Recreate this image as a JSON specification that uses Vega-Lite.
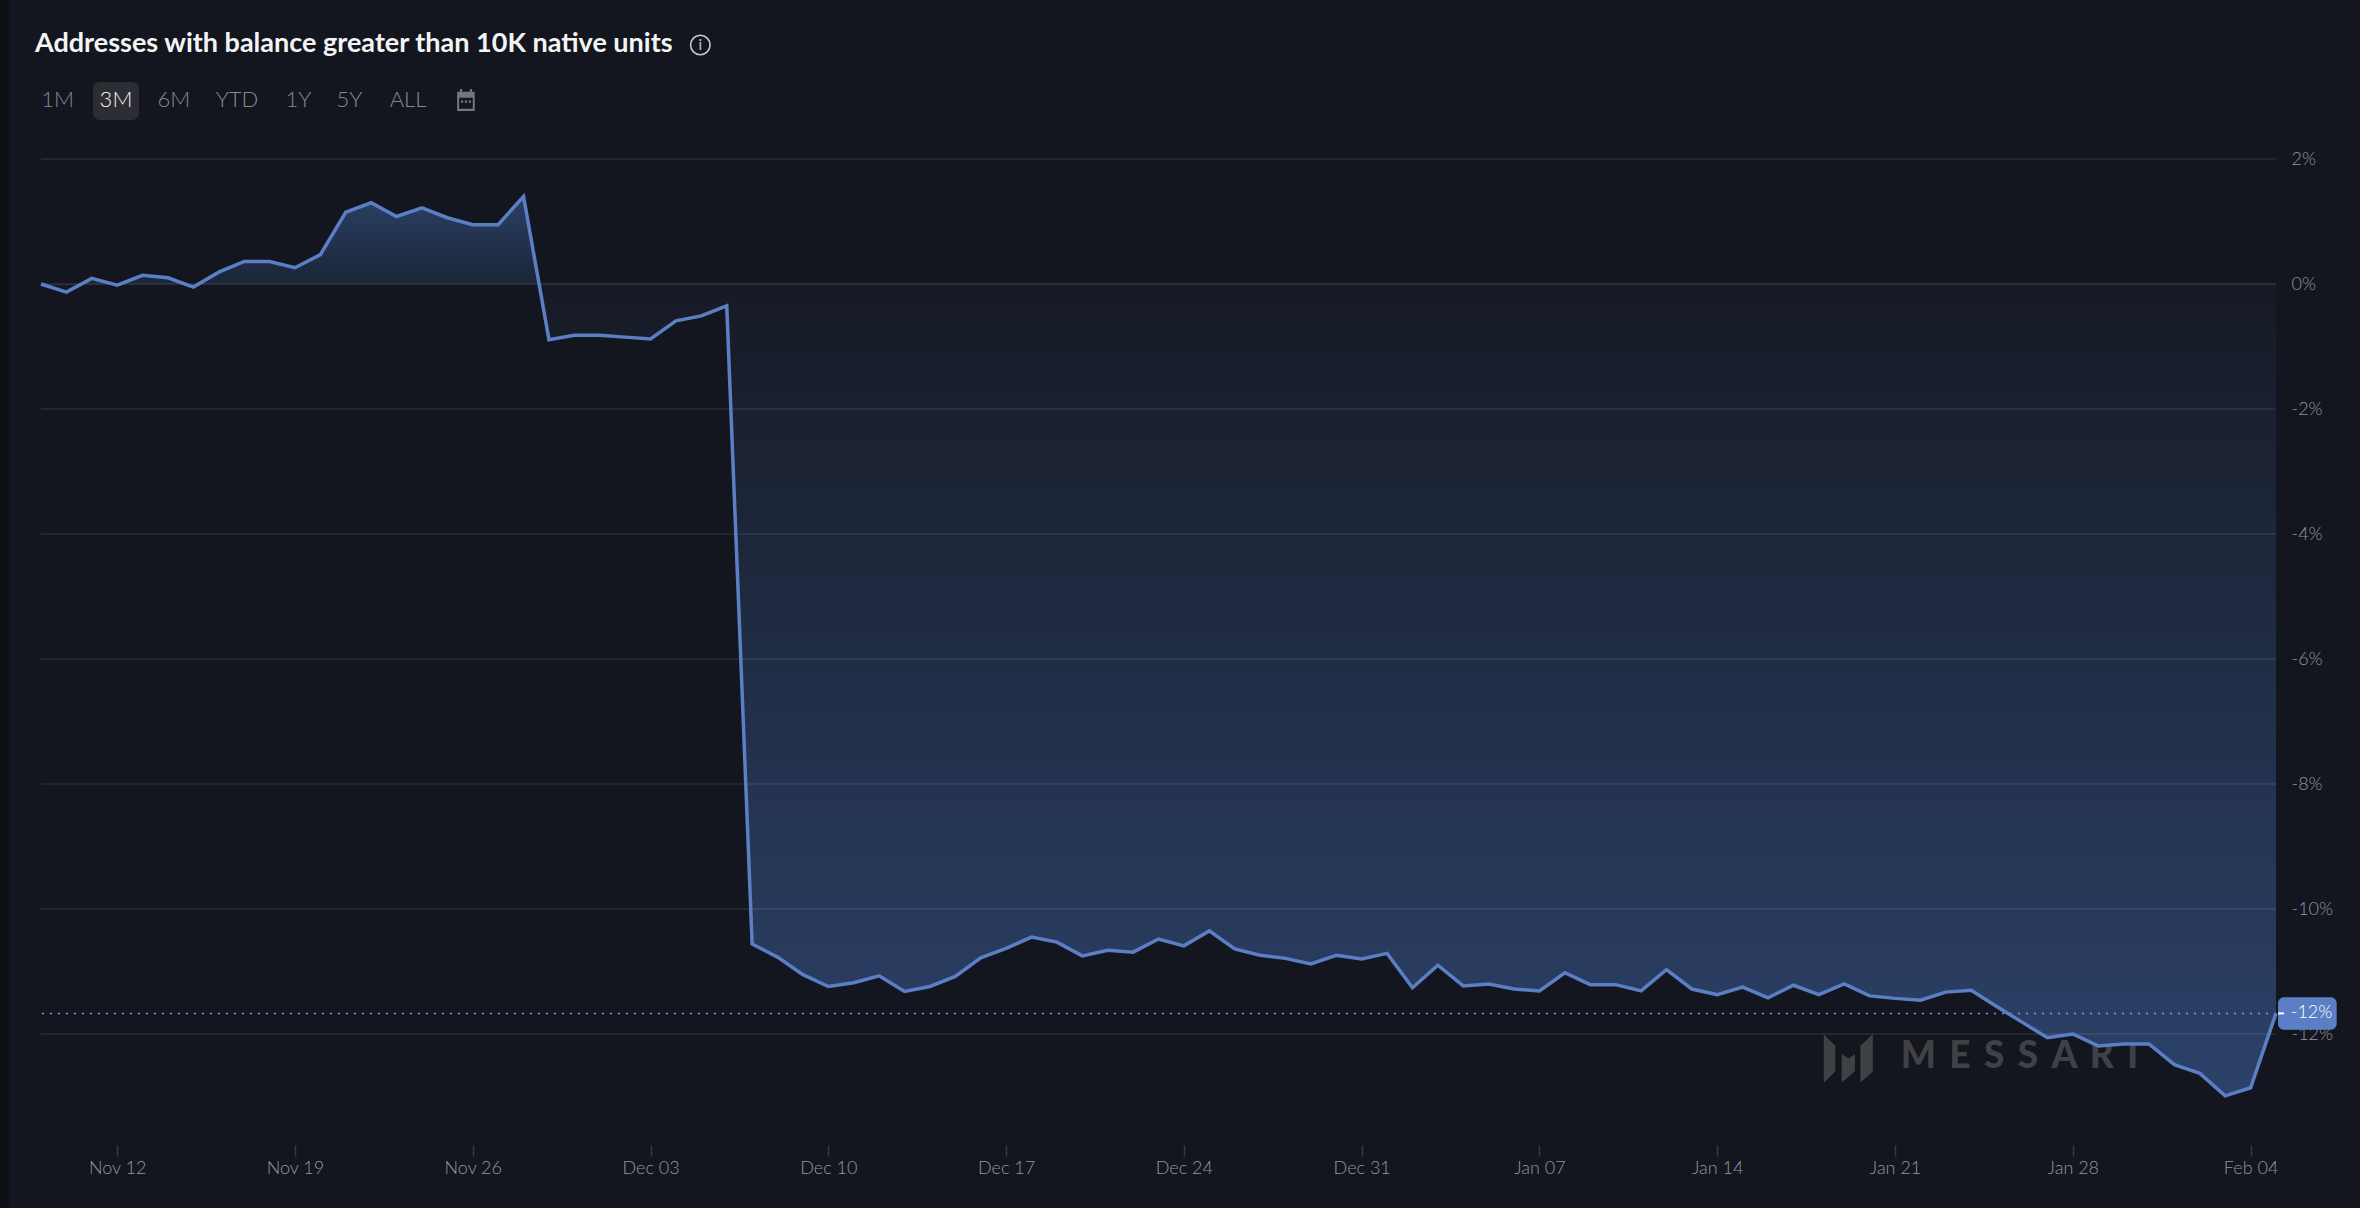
{
  "$schema": "https://vega.github.io/schema/vega-lite/v6.json",
  "autosize": "none",
  "width": 2235,
  "height": 986,
  "padding": {"left": 41, "top": 159, "right": 84, "bottom": 63},
  "background": "#13161e",
  "title": {
    "text": "Addresses with balance greater than 10K native units",
    "anchor": "start",
    "frame": "group",
    "dx": -6,
    "offset": -58,
    "font": "Lato",
    "fontSize": 27,
    "fontWeight": 700,
    "color": "#f4f4f5"
  },
  "config": {
    "view": {"stroke": null},
    "text": {"font": "Lato"},
    "axis": {"labelFont": "Lato", "title": null}
  },
  "datasets": {
    "series": [
      {"date": "2023-11-09", "value": 0.0},
      {"date": "2023-11-10", "value": -0.13},
      {"date": "2023-11-11", "value": 0.09},
      {"date": "2023-11-12", "value": -0.02},
      {"date": "2023-11-13", "value": 0.14},
      {"date": "2023-11-14", "value": 0.1},
      {"date": "2023-11-15", "value": -0.05},
      {"date": "2023-11-16", "value": 0.19},
      {"date": "2023-11-17", "value": 0.36},
      {"date": "2023-11-18", "value": 0.36},
      {"date": "2023-11-19", "value": 0.26},
      {"date": "2023-11-20", "value": 0.47},
      {"date": "2023-11-21", "value": 1.15},
      {"date": "2023-11-22", "value": 1.3},
      {"date": "2023-11-23", "value": 1.08},
      {"date": "2023-11-24", "value": 1.22},
      {"date": "2023-11-25", "value": 1.06},
      {"date": "2023-11-26", "value": 0.95},
      {"date": "2023-11-27", "value": 0.95},
      {"date": "2023-11-28", "value": 1.4},
      {"date": "2023-11-29", "value": -0.89},
      {"date": "2023-11-30", "value": -0.82},
      {"date": "2023-12-01", "value": -0.82},
      {"date": "2023-12-02", "value": -0.85},
      {"date": "2023-12-03", "value": -0.88},
      {"date": "2023-12-04", "value": -0.59},
      {"date": "2023-12-05", "value": -0.51},
      {"date": "2023-12-06", "value": -0.35},
      {"date": "2023-12-07", "value": -10.56},
      {"date": "2023-12-08", "value": -10.77},
      {"date": "2023-12-09", "value": -11.05},
      {"date": "2023-12-10", "value": -11.24},
      {"date": "2023-12-11", "value": -11.18},
      {"date": "2023-12-12", "value": -11.07},
      {"date": "2023-12-13", "value": -11.32},
      {"date": "2023-12-14", "value": -11.24},
      {"date": "2023-12-15", "value": -11.08},
      {"date": "2023-12-16", "value": -10.78},
      {"date": "2023-12-17", "value": -10.63},
      {"date": "2023-12-18", "value": -10.45},
      {"date": "2023-12-19", "value": -10.53},
      {"date": "2023-12-20", "value": -10.75},
      {"date": "2023-12-21", "value": -10.66},
      {"date": "2023-12-22", "value": -10.69},
      {"date": "2023-12-23", "value": -10.48},
      {"date": "2023-12-24", "value": -10.59},
      {"date": "2023-12-25", "value": -10.35},
      {"date": "2023-12-26", "value": -10.64},
      {"date": "2023-12-27", "value": -10.74},
      {"date": "2023-12-28", "value": -10.79},
      {"date": "2023-12-29", "value": -10.88},
      {"date": "2023-12-30", "value": -10.74},
      {"date": "2023-12-31", "value": -10.8},
      {"date": "2024-01-01", "value": -10.71},
      {"date": "2024-01-02", "value": -11.26},
      {"date": "2024-01-03", "value": -10.9},
      {"date": "2024-01-04", "value": -11.23},
      {"date": "2024-01-05", "value": -11.2},
      {"date": "2024-01-06", "value": -11.28},
      {"date": "2024-01-07", "value": -11.31},
      {"date": "2024-01-08", "value": -11.02},
      {"date": "2024-01-09", "value": -11.21},
      {"date": "2024-01-10", "value": -11.21},
      {"date": "2024-01-11", "value": -11.31},
      {"date": "2024-01-12", "value": -10.97},
      {"date": "2024-01-13", "value": -11.28},
      {"date": "2024-01-14", "value": -11.37},
      {"date": "2024-01-15", "value": -11.25},
      {"date": "2024-01-16", "value": -11.42},
      {"date": "2024-01-17", "value": -11.22},
      {"date": "2024-01-18", "value": -11.37},
      {"date": "2024-01-19", "value": -11.2},
      {"date": "2024-01-20", "value": -11.39},
      {"date": "2024-01-21", "value": -11.43},
      {"date": "2024-01-22", "value": -11.46},
      {"date": "2024-01-23", "value": -11.33},
      {"date": "2024-01-24", "value": -11.3},
      {"date": "2024-01-25", "value": -11.56},
      {"date": "2024-01-26", "value": -11.81},
      {"date": "2024-01-27", "value": -12.06},
      {"date": "2024-01-28", "value": -12.0},
      {"date": "2024-01-29", "value": -12.19},
      {"date": "2024-01-30", "value": -12.16},
      {"date": "2024-01-31", "value": -12.16},
      {"date": "2024-02-01", "value": -12.49},
      {"date": "2024-02-02", "value": -12.63},
      {"date": "2024-02-03", "value": -12.99},
      {"date": "2024-02-04", "value": -12.86},
      {"date": "2024-02-05", "value": -11.67}
    ],
    "gridlines": [
      {"value": 2, "kind": "grid"},
      {"value": 0, "kind": "zero"},
      {"value": -2, "kind": "grid"},
      {"value": -4, "kind": "grid"},
      {"value": -6, "kind": "grid"},
      {"value": -8, "kind": "grid"},
      {"value": -10, "kind": "grid"},
      {"value": -12, "kind": "grid"}
    ],
    "ranges": [
      {"label": "1M", "date": "2023-11-09T15:41:00Z", "value": 2.944, "active": false},
      {"label": "3M", "date": "2023-11-11T22:52:00Z", "value": 2.944, "active": true},
      {"label": "6M", "date": "2023-11-14T05:40:00Z", "value": 2.944, "active": false},
      {"label": "YTD", "date": "2023-11-16T17:13:00Z", "value": 2.944, "active": false},
      {"label": "1Y", "date": "2023-11-19T03:19:00Z", "value": 2.944, "active": false},
      {"label": "5Y", "date": "2023-11-21T03:30:00Z", "value": 2.944, "active": false},
      {"label": "ALL", "date": "2023-11-23T10:47:00Z", "value": 2.944, "active": false}
    ]
  },
  "layer": [
    {
      "data": {"values": [{"date": "2023-11-07T09:15:00Z", "date2": "2023-11-07T17:23:00Z", "value": 4.55, "value2": -14.78}]},
      "mark": {"type": "rect", "fill": "#0e1014"},
      "encoding": {
        "x": {
          "field": "date",
          "type": "temporal",
          "scale": {"type": "utc", "domain": [1699488000000, 1707091200000]},
          "axis": {
            "orient": "bottom",
            "values": [1699747200000, 1700352000000, 1700956800000, 1701561600000, 1702166400000, 1702771200000, 1703376000000, 1703980800000, 1704585600000, 1705190400000, 1705795200000, 1706400000000, 1707004800000],
            "format": "%b %d",
            "formatType": "utc",
            "grid": false,
            "domain": false,
            "tickColor": "#343840",
            "tickSize": 11,
            "tickWidth": 1.5,
            "labelFontSize": 18,
            "labelFontWeight": 300,
            "labelColor": "#93979e",
            "labelPadding": 3,
            "labelOverlap": false
          }
        },
        "x2": {"field": "date2"},
        "y": {
          "field": "value",
          "type": "quantitative",
          "scale": {"domain": [-13.776, 2], "nice": false, "zero": false},
          "axis": {
            "orient": "right",
            "values": [2, 0, -2, -4, -6, -8, -10, -12],
            "labelExpr": "datum.value + '%'",
            "grid": false,
            "domain": false,
            "ticks": false,
            "labelFontSize": 18,
            "labelFontWeight": 300,
            "labelColor": "#93979e",
            "labelPadding": 15
          }
        },
        "y2": {"field": "value2"}
      }
    },
    {
      "data": {"values": [{"date": "2024-01-19T03:50:00Z", "value": -12.39}]},
      "mark": {
        "type": "point",
        "filled": true,
        "size": 2401,
        "opacity": 1,
        "fill": "#3f4145",
        "strokeWidth": 0,
        "shape": "M-1,-0.98L-0.53,-0.52V0.54L-1,0.99ZM-0.27,-0.18L0.02,0.01L0.27,-0.18V0.53L-0.27,0.99ZM0.49,-0.52L1,-0.98V0.54L0.49,0.99Z"
      },
      "encoding": {
        "x": {"field": "date", "type": "temporal"},
        "y": {"field": "value", "type": "quantitative"}
      }
    },
    {
      "data": {"values": [{"date": "2024-01-25T21:36:00Z", "value": -12.37, "label": "M \u2009E \u2009S \u2009S \u2009A \u2009R \u2009I"}]},
      "mark": {"type": "text", "fontSize": 37, "fontWeight": 900, "color": "#3f4145", "align": "center", "baseline": "middle"},
      "encoding": {
        "x": {"field": "date", "type": "temporal"},
        "y": {"field": "value", "type": "quantitative"},
        "text": {"field": "label"}
      }
    },
    {
      "data": {"name": "series"},
      "mark": {
        "type": "area",
        "fill": {
          "gradient": "linear",
          "x1": 0,
          "y1": 0,
          "x2": 0,
          "y2": 1,
          "stops": [
            {"offset": 0, "color": "#2b4065"},
            {"offset": 0.0965, "color": "#1b2538"},
            {"offset": 0.0985, "color": "#161a25"},
            {"offset": 1, "color": "#2c426a"}
          ]
        }
      },
      "encoding": {
        "x": {"field": "date", "type": "temporal"},
        "y": {"field": "value", "type": "quantitative"},
        "y2": {"datum": 0}
      }
    },
    {
      "data": {"name": "gridlines"},
      "mark": {"type": "rule", "stroke": "#ffffff", "strokeWidth": 2},
      "encoding": {
        "y": {"field": "value", "type": "quantitative"},
        "opacity": {
          "field": "kind",
          "type": "nominal",
          "legend": null,
          "scale": {"domain": ["grid", "zero"], "range": [0.07, 0.09]}
        }
      }
    },
    {
      "data": {"values": [{"value": -11.67}]},
      "mark": {"type": "rule", "stroke": "#7f9bd6", "strokeWidth": 1.5, "strokeDash": [2, 6]},
      "encoding": {
        "y": {"field": "value", "type": "quantitative"}
      }
    },
    {
      "data": {"name": "series"},
      "mark": {"type": "line", "stroke": "#5b7fc4", "strokeWidth": 3.5, "strokeJoin": "miter"},
      "encoding": {
        "x": {"field": "date", "type": "temporal"},
        "y": {"field": "value", "type": "quantitative"}
      }
    },
    {
      "data": {"values": [{"date": "2024-02-05T01:53:00Z", "date2": "2024-02-07T09:21:00Z", "value": -11.41, "value2": -11.93}]},
      "mark": {"type": "rect", "fill": "#5b7fc4", "cornerRadius": 6},
      "encoding": {
        "x": {"field": "date", "type": "temporal"},
        "x2": {"field": "date2"},
        "y": {"field": "value", "type": "quantitative"},
        "y2": {"field": "value2"}
      }
    },
    {
      "data": {"values": [{"date": "2024-02-05T02:00:00Z", "date2": "2024-02-05T07:30:00Z", "value": -11.67}]},
      "mark": {"type": "rule", "stroke": "#ffffff", "strokeWidth": 2},
      "encoding": {
        "x": {"field": "date", "type": "temporal"},
        "x2": {"field": "date2"},
        "y": {"field": "value", "type": "quantitative"}
      }
    },
    {
      "data": {"values": [{"date": "2024-02-05T13:55:00Z", "value": -11.67, "label": "-12%"}]},
      "mark": {"type": "text", "fontSize": 18, "fontWeight": 300, "color": "#ffffff", "align": "left", "baseline": "middle"},
      "encoding": {
        "x": {"field": "date", "type": "temporal"},
        "y": {"field": "value", "type": "quantitative"},
        "text": {"field": "label"}
      }
    },
    {
      "data": {"values": [{"date": "2023-11-11T01:08:00Z", "date2": "2023-11-12T20:36:00Z", "value": 3.232, "value2": 2.624}]},
      "mark": {"type": "rect", "fill": "#2c2d33", "cornerRadius": 7},
      "encoding": {
        "x": {"field": "date", "type": "temporal"},
        "x2": {"field": "date2"},
        "y": {"field": "value", "type": "quantitative"},
        "y2": {"field": "value2"}
      }
    },
    {
      "data": {"name": "ranges"},
      "mark": {"type": "text", "fontSize": 22, "fontWeight": 300, "align": "center", "baseline": "middle"},
      "encoding": {
        "x": {"field": "date", "type": "temporal"},
        "y": {"field": "value", "type": "quantitative"},
        "text": {"field": "label"},
        "color": {
          "field": "active",
          "type": "nominal",
          "legend": null,
          "scale": {"domain": [false, true], "range": ["#888a90", "#f4f4f5"]}
        }
      }
    },
    {
      "data": {"values": [{"date": "2023-11-25T17:34:00Z", "value": 2.944}]},
      "mark": {
        "type": "point",
        "filled": true,
        "size": 484,
        "opacity": 1,
        "fill": "#74767b",
        "strokeWidth": 0,
        "shape": "M-0.8,-0.75H-0.55V-1H-0.35V-0.75H0.35V-1H0.55V-0.75H0.8V1H-0.8ZM-0.62,-0.2V0.8H0.62V-0.2ZM-0.45,0.05H-0.25V0.25H-0.45ZM-0.1,0.05H0.1V0.25H-0.1ZM0.25,0.05H0.45V0.25H0.25Z"
      },
      "encoding": {
        "x": {"field": "date", "type": "temporal"},
        "y": {"field": "value", "type": "quantitative"}
      }
    },
    {
      "data": {"values": [{"date": "2023-12-04T23:02:00Z", "value": 3.824}]},
      "mark": {"type": "point", "shape": "circle", "size": 380, "filled": false, "stroke": "#c8c9cc", "strokeWidth": 1.6, "opacity": 1},
      "encoding": {
        "x": {"field": "date", "type": "temporal"},
        "y": {"field": "value", "type": "quantitative"}
      }
    },
    {
      "data": {"values": [{"date": "2023-12-04T23:02:00Z", "value": 3.824, "label": "i"}]},
      "mark": {"type": "text", "fontSize": 15, "color": "#c8c9cc", "align": "center", "baseline": "middle"},
      "encoding": {
        "x": {"field": "date", "type": "temporal"},
        "y": {"field": "value", "type": "quantitative"},
        "text": {"field": "label"}
      }
    }
  ]
}
